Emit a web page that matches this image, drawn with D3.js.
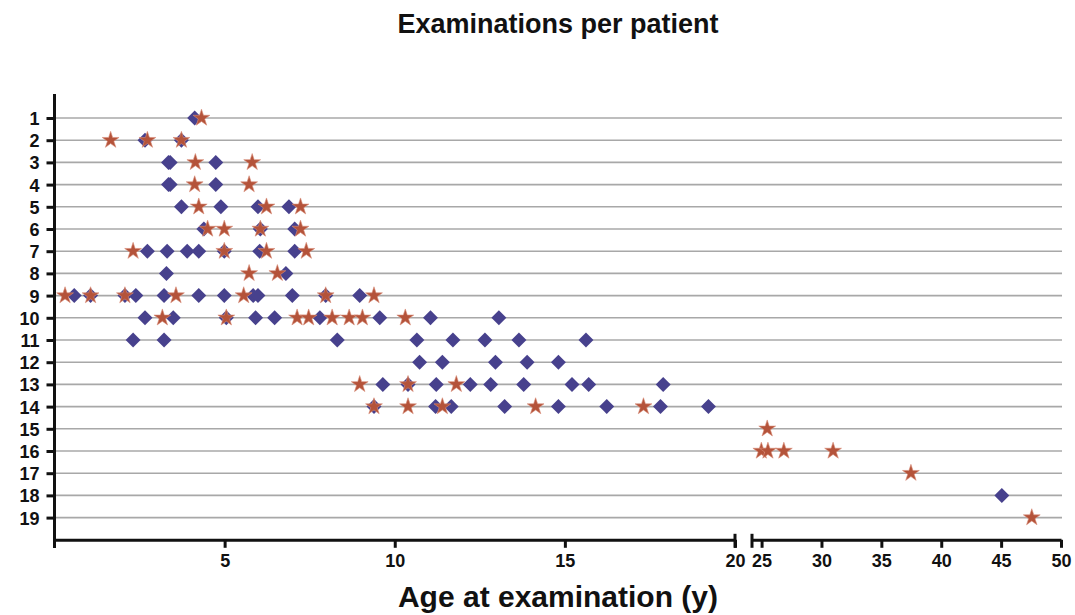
<!DOCTYPE html>
<html>
<head>
<meta charset="utf-8">
<script src="https://cdn.jsdelivr.net/npm/d3@7"></script>
<style>
  body { margin: 0; background: #fff; }
  text { font-family: "Liberation Sans", Arial, sans-serif; font-weight: bold; fill: #111; }
</style>
</head>
<body>
<div class="chart"></div>
<script>
// patients 1..19, ages (years) of each examination
const patients = d3.range(1, 20);
const diamondAges = [
  [4.12],
  [2.66, 3.73],
  [3.35, 3.40, 4.74],
  [3.35, 3.40, 4.74],
  [3.73, 4.89, 5.98, 6.89],
  [4.39, 6.05, 7.06],
  [2.73, 3.31, 3.90, 4.24, 4.99, 6.03, 7.06],
  [3.29, 6.80],
  [0.58, 1.06, 2.07, 2.39, 3.22, 4.24, 4.99, 5.84, 5.98, 6.99, 7.97, 8.97],
  [2.66, 3.49, 5.05, 5.91, 6.47, 7.80, 9.56, 11.05, 13.06],
  [2.31, 3.22, 8.31, 10.65, 11.71, 12.65, 13.65, 15.62],
  [10.73, 11.40, 12.96, 13.89, 14.81],
  [9.65, 10.39, 11.22, 12.22, 12.82, 13.79, 15.21, 15.70, 17.89],
  [9.39, 11.20, 11.66, 13.23, 14.81, 16.23, 17.81, 19.22],
  [],
  [],
  [],
  [45.06],
  []
];
const starAges = [
  [4.32],
  [1.65, 2.73, 3.73],
  [4.14, 5.81],
  [4.12, 5.72],
  [4.24, 6.23, 7.23],
  [4.50, 4.99, 6.05, 7.23],
  [2.31, 4.99, 6.23, 7.40],
  [5.72, 6.55],
  [0.31, 1.06, 2.07, 3.57, 5.56, 7.97, 9.39],
  [3.17, 5.05, 7.13, 7.47, 8.16, 8.66, 9.05, 10.31],
  [],
  [],
  [8.97, 10.39, 11.81],
  [9.39, 10.39, 11.40, 14.14, 17.31],
  [25.47],
  [24.98, 25.53, 26.86, 30.97],
  [37.47],
  [],
  [47.56]
];
const leftTicks = [5, 10, 15, 20];
const rightTicks = [25, 30, 35, 40, 45, 50];

const W = 1075, H = 615;
const svg = d3.select('.chart').append('svg').attr('width', W).attr('height', H);

const xLeft = d3.scaleLinear().domain([0, 20]).range([54.5, 735]);
const xRight = d3.scaleLinear().domain([24.2, 50]).range([752, 1061]);
const x = function(v) { return v > 22 ? xRight(v) : xLeft(v); };
const y = d3.scaleLinear().domain([0, 20]).range([95.8, 539.8]);

function flatten(arr) {
  const out = [];
  arr.forEach(function(ages, i) {
    ages.forEach(function(a) { out.push({ patient: patients[i], age: a }); });
  });
  return out;
}

// gridlines
svg.append('g').selectAll('line')
  .data(patients)
  .enter().append('line')
  .attr('x1', 54.5).attr('x2', 1062)
  .attr('y1', function(d) { return y(d); })
  .attr('y2', function(d) { return y(d); })
  .attr('stroke', '#a8a8a8').attr('stroke-width', 1.6);

// y axis
const yAxis = svg.append('g')
  .attr('transform', 'translate(' + xLeft(0) + ',0)')
  .call(d3.axisLeft(y).tickValues(patients).tickSize(8).tickPadding(7));
yAxis.select('.domain').remove();
yAxis.selectAll('.tick line').attr('stroke', '#111').attr('stroke-width', 3);
yAxis.selectAll('.tick text').attr('font-size', 18).attr('dy', '0.36em');
yAxis.append('line')
  .attr('x1', 0).attr('x2', 0).attr('y1', 94).attr('y2', 548)
  .attr('stroke', '#111').attr('stroke-width', 3);

// x axes (broken)
function drawX(scale, ticks) {
  const g = svg.append('g')
    .attr('transform', 'translate(0,' + y(20) + ')')
    .call(d3.axisBottom(scale).tickValues(ticks).tickSize(8).tickSizeOuter(0).tickPadding(6));
  g.select('.domain').attr('stroke', '#111').attr('stroke-width', 3);
  g.selectAll('.tick line').attr('stroke', '#111').attr('stroke-width', 3);
  g.selectAll('.tick text').attr('font-size', 18);
  return g;
}
drawX(xLeft, leftTicks);
drawX(xRight, rightTicks);

// break marks
[xLeft(20), xRight(24.2)].forEach(function(px) {
  svg.append('line')
    .attr('x1', px).attr('x2', px)
    .attr('y1', y(20) - 6).attr('y2', y(20) + 8)
    .attr('stroke', '#111').attr('stroke-width', 3);
});

// diamonds
svg.append('g').selectAll('path')
  .data(flatten(diamondAges))
  .enter().append('path')
  .attr('d', d3.symbol().type(d3.symbolSquare).size(112))
  .attr('transform', function(d) { return 'translate(' + x(d.age) + ',' + y(d.patient) + ') rotate(45)'; })
  .attr('fill', '#47418d');

// stars
svg.append('g').selectAll('path')
  .data(flatten(starAges))
  .enter().append('path')
  .attr('d', d3.symbol().type(d3.symbolStar).size(88))
  .attr('transform', function(d) { return 'translate(' + x(d.age) + ',' + y(d.patient) + ')'; })
  .attr('fill', '#b4533a')
  .attr('stroke', '#d98d78').attr('stroke-width', 0.6);

// titles
svg.append('text')
  .attr('x', 558).attr('y', 33)
  .attr('text-anchor', 'middle')
  .attr('font-size', 27)
  .text('Examinations per patient');

svg.append('text')
  .attr('x', 558).attr('y', 607)
  .attr('text-anchor', 'middle')
  .attr('font-size', 30)
  .text('Age at examination (y)');
</script>
</body>
</html>
